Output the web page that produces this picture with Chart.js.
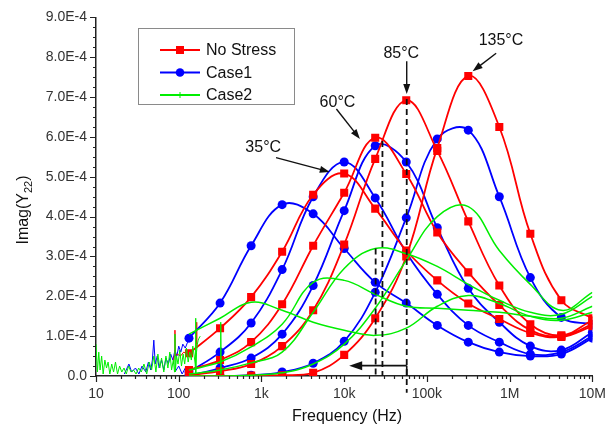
<!DOCTYPE html>
<html>
<head>
<meta charset="utf-8">
<script src="https://cdn.jsdelivr.net/npm/chart.js@4.4.0/dist/chart.umd.min.js"></script>
<style>
html, body { margin: 0; padding: 0; background: #fff; }
#wrap { width: 616px; height: 433px; }
</style>
</head>
<body>
<div id="wrap"><canvas id="imagChart" width="616" height="433"></canvas></div>
<script>
// Frequencies (Hz) where the symbols sit; all values below are in units of 1E-4
var freqs = [10, 23.7, 56.2, 133, 316, 750, 1778, 4217, 10000, 23714, 56234, 133352, 316228, 749894, 1778279, 4216965, 10000000];

// No Stress (red)
var red35  = [null, null, null, 0.57, 1.2, 1.98, 3.12, 4.55, 5.08, 4.2, 3.15, 2.4, 1.82, 1.43, 1.08, 0.98, 1.25];
var red60  = [null, null, null, 0.15, 0.4, 0.85, 1.8, 3.27, 4.6, 5.98, 5.07, 3.6, 2.6, 1.78, 1.15, 1.0, 1.3];
var red85  = [null, null, null, 0.02, 0.12, 0.3, 0.75, 1.65, 3.3, 5.45, 6.92, 5.65, 3.88, 2.27, 1.3, 1.02, 1.4];
var red135 = [null, null, null, 0, 0, 0.01, 0.02, 0.08, 0.53, 1.45, 3.0, 5.72, 7.53, 6.25, 3.57, 1.9, 1.45];

// Case1 (blue)
var blue35  = [null, null, null, 0.95, 1.83, 3.27, 4.3, 4.07, 3.2, 2.35, 1.83, 1.27, 0.85, 0.6, 0.5, 0.55, 0.95];
var blue60  = [null, null, null, 0.1, 0.6, 1.33, 2.67, 4.5, 5.37, 4.47, 3.1, 2.05, 1.27, 0.85, 0.55, 0.6, 1.0];
var blue85  = [null, null, null, 0, 0.2, 0.45, 1.05, 2.27, 4.15, 5.78, 5.37, 3.72, 2.2, 1.35, 0.75, 0.65, 1.1];
var blue135 = [null, null, null, 0, 0, 0.02, 0.1, 0.32, 0.87, 2.1, 3.97, 5.95, 6.17, 4.5, 2.47, 1.47, 1.3];

// Case2 (green)
var green35  = [null, null, null, 1.05, 1.45, 1.85, 1.65, 1.35, 1.15, 1.02, 1.2, 1.75, 2.02, 1.82, 1.5, 1.4, 1.6];
var green60  = [null, null, null, 0.15, 0.35, 0.73, 1.3, 2.35, 2.4, 2.05, 1.75, 1.7, 1.65, 1.6, 1.5, 1.45, 1.75];
var green85  = [null, null, null, 0.05, 0.15, 0.33, 0.6, 1.6, 2.7, 3.2, 3.07, 2.75, 2.3, 1.9, 1.6, 1.55, 2.0];
var green135 = [null, null, null, 0, 0, 0.02, 0.08, 0.3, 0.8, 1.7, 2.9, 4.0, 4.25, 3.15, 2.3, 1.65, 2.1];

// low frequency noise, [Hz, value]
var greenNoise = [[10,0.8],[10.4,0.1],[10.8,0.6],[11.2,0.15],[11.7,0.5],[12.2,0.05],[12.8,0.4],[13.4,0.2],[14,0.35],[14.7,0.05],
  [15.5,0.3],[16.3,0.1],[17.2,0.35],[18.2,0.05],[19.3,0.25],[20.5,0.1],[21.8,0.2],[23.2,0.05],[24.8,0.25],[26.5,0.1],
  [28.4,0.15],[30.5,0.05],[32.8,0.2],[35.3,0.1],[38,0.3],[41,0.05],[44,0.35],[47,0.15],[50,0.5],[53,0.1],
  [56,0.55],[59,0.2],[62,0.45],[66,0.1],[70,0.5],[74,0.2],[78,0.6],[82,0.15],[86,0.4],[89,0.1],[90,1.05],[91,0.1],
  [94,0.5],[98,0.3],[103,0.65],[108,0.25],[113,0.55],[118,0.3],[124,0.7],[130,0.35],[136,0.6],[142,0.4],[148,0.75],
  [154,0.5],[158,0.3],[160,1.45],[161,0.05],[164,0.6],[168,0.8],[172,0.9],[176,0.95],[182,1.0],
  [300,null],[318,0.05],[322,1.35],[326,0.05]];
var blueNoise = [[22,0.05],[25,0.3],[27,0.1],[30,0.2],[33,0.05],[36,0.25],[40,0.1],[43,0.35],[46,0.15],[48,0.4],
  [50,0.9],[52,0.3],[55,0.5],[58,0.2],[62,0.4],[66,0.15],[70,0.45],[75,0.3],[80,0.55],[85,0.4],[90,0.65],[95,0.5],
  [100,0.75],[106,0.6],[112,0.8],[120,0.7],[128,0.85],[133,0.95],
  [134,null],[90,0.1],[100,0.25],[110,0.05],[120,0.2],[133,0.1]];
var redNoise = [[86,0.3],[88,0.5],[90,1.15],[91,0.5],[96,0.55],[105,0.5],[115,0.6],[125,0.55],[133,0.57],
  [150,null],[162,0.75],[164,1.35],[166,0.8]];

var xTicks = [10, 100, 1000, 10000, 100000, 1000000, 10000000];
var xTickLabels = ['10', '100', '1k', '10k', '100k', '1M', '10M'];
var yTickVals = [0, 1, 2, 3, 4, 5, 6, 7, 8, 9];
var yTickLabels = ['0.0', '1.0E-4', '2.0E-4', '3.0E-4', '4.0E-4', '5.0E-4', '6.0E-4', '7.0E-4', '8.0E-4', '9.0E-4'];

// markers drawn on top: [x Hz, top value, bottom value]
var dashLines = [[24000, 3.2, 0], [29000, 5.9, 0], [57000, 6.95, -0.42]];
var tempLabels = [
  { text: '35°C',  tx: 1050,   ty: 5.72, x1: 1500,   y1: 5.48, x2: 6700,  y2: 5.12 },
  { text: '60°C',  tx: 8300,   ty: 6.85, x1: 8050,   y1: 6.7,  x2: 15500, y2: 5.95 },
  { text: '85°C',  tx: 49000,  ty: 8.1,  x1: 57000,  y1: 7.9,  x2: 57000, y2: 7.08 },
  { text: '135°C', tx: 785000, ty: 8.43, x1: 687000, y1: 8.1,  x2: 357000, y2: 7.65 }
];
var shiftArrow = { from: 57000, to: 11500, y: 0.26 };

var RED = '#ff0000', BLUE = '#0000ff', GREEN = '#00ee00';
var FONT = "'Liberation Sans', Arial, sans-serif";
Chart.defaults.font.family = FONT;

function curve(vals, color, style, radius, width) {
  var pts = [];
  freqs.forEach(function (f, i) {
    if (vals[i] !== null) pts.push({ x: f, y: vals[i] * 1e-4 });
  });
  return {
    data: pts, borderColor: color, backgroundColor: color, borderWidth: width,
    pointStyle: style, pointRadius: radius, pointBorderWidth: 0, tension: 0.4
  };
}

function noise(pairs, color) {
  return {
    data: pairs.map(function (p) { return { x: p[0], y: p[1] === null ? null : p[1] * 1e-4 }; }),
    borderColor: color, borderWidth: 1, pointRadius: 0, tension: 0, spanGaps: false
  };
}

function arrow(ctx, x1, y1, x2, y2, len, half) {
  var a = Math.atan2(y2 - y1, x2 - x1);
  ctx.beginPath();
  ctx.moveTo(x1, y1);
  ctx.lineTo(x2 - Math.cos(a) * len * 0.8, y2 - Math.sin(a) * len * 0.8);
  ctx.stroke();
  ctx.beginPath();
  ctx.moveTo(x2, y2);
  ctx.lineTo(x2 - Math.cos(a) * len + Math.sin(a) * half, y2 - Math.sin(a) * len - Math.cos(a) * half);
  ctx.lineTo(x2 - Math.cos(a) * len - Math.sin(a) * half, y2 - Math.sin(a) * len + Math.cos(a) * half);
  ctx.closePath();
  ctx.fill();
}

var extras = {
  id: 'extras',
  afterDatasetsDraw: function (chart) {
    var ctx = chart.ctx, xs = chart.scales.x, ys = chart.scales.y;
    var area = chart.chartArea;
    ctx.save();
    ctx.strokeStyle = '#111';
    ctx.fillStyle = '#111';

    // dashed markers
    ctx.lineWidth = 1.8;
    ctx.setLineDash([6, 4]);
    dashLines.forEach(function (d) {
      var px = xs.getPixelForValue(d[0]);
      ctx.beginPath();
      ctx.moveTo(px, ys.getPixelForValue(d[1] * 1e-4));
      ctx.lineTo(px, ys.getPixelForValue(d[2] * 1e-4));
      ctx.stroke();
    });
    ctx.setLineDash([]);

    // shift arrow at the bottom
    var ax1 = xs.getPixelForValue(shiftArrow.from), ax2 = xs.getPixelForValue(shiftArrow.to);
    var ay = ys.getPixelForValue(shiftArrow.y * 1e-4);
    ctx.lineWidth = 1.6;
    ctx.beginPath();
    ctx.moveTo(ax1, area.bottom);
    ctx.lineTo(ax1, ay);
    ctx.stroke();
    arrow(ctx, ax1, ay, ax2, ay, 13, 4.5);

    // temperature labels
    ctx.lineWidth = 1.4;
    ctx.font = '16px ' + FONT;
    ctx.textAlign = 'center';
    ctx.textBaseline = 'middle';
    tempLabels.forEach(function (t) {
      ctx.fillText(t.text, xs.getPixelForValue(t.tx), ys.getPixelForValue(t.ty * 1e-4));
      arrow(ctx, xs.getPixelForValue(t.x1), ys.getPixelForValue(t.y1 * 1e-4),
        xs.getPixelForValue(t.x2), ys.getPixelForValue(t.y2 * 1e-4), 10, 3.5);
    });
    ctx.restore();
  },
  afterDraw: function (chart) {
    var ctx = chart.ctx, xs = chart.scales.x, ys = chart.scales.y;
    var area = chart.chartArea;
    ctx.save();
    ctx.strokeStyle = '#222';
    ctx.lineWidth = 1.2;

    // x ticks, majors and minors
    ctx.beginPath();
    for (var d = 1; d <= 7; d++) {
      for (var m = 1; m <= 9; m++) {
        var v = m * Math.pow(10, d);
        if (v > 1e7) break;
        var px = Math.round(xs.getPixelForValue(v)) + 0.5;
        ctx.moveTo(px, area.bottom);
        ctx.lineTo(px, area.bottom + (m === 1 ? 6 : 3));
      }
    }
    // y ticks
    for (var k = 0; k <= 36; k++) {
      var py = Math.round(ys.getPixelForValue(k * 0.25e-4)) + 0.5;
      ctx.moveTo(area.left, py);
      ctx.lineTo(area.left - (k % 4 === 0 ? 6 : 3), py);
    }
    ctx.stroke();

    // axis titles
    ctx.fillStyle = '#111';
    ctx.textBaseline = 'middle';
    ctx.textAlign = 'center';
    ctx.font = '16px ' + FONT;
    ctx.fillText('Frequency (Hz)', 347, 417);

    ctx.save();
    ctx.translate(24, 210);
    ctx.rotate(-Math.PI / 2);
    ctx.textAlign = 'left';
    var big = '16px ' + FONT, small = '11px ' + FONT;
    ctx.font = big;
    var w1 = ctx.measureText('Imag(Y').width, w3 = ctx.measureText(')').width;
    ctx.font = small;
    var w2 = ctx.measureText('22').width;
    var sx = -(w1 + w2 + w3) / 2;
    ctx.font = big;
    ctx.fillText('Imag(Y', sx, 0);
    ctx.font = small;
    ctx.fillText('22', sx + w1, 5);
    ctx.font = big;
    ctx.fillText(')', sx + w1 + w2, 0);
    ctx.restore();

    // legend box
    ctx.fillStyle = '#fff';
    ctx.fillRect(138, 28, 156, 76);
    ctx.strokeStyle = '#8a8a8a';
    ctx.lineWidth = 1;
    ctx.strokeRect(138.5, 28.5, 156, 76);
    var items = [['No Stress', RED, 'rect'], ['Case1', BLUE, 'circle'], ['Case2', GREEN, 'cross']];
    items.forEach(function (it, i) {
      var y = 50 + i * 22.5;
      ctx.strokeStyle = it[1];
      ctx.fillStyle = it[1];
      ctx.lineWidth = 1.8;
      ctx.beginPath();
      ctx.moveTo(160, y);
      ctx.lineTo(200, y);
      ctx.stroke();
      if (it[2] === 'rect') {
        ctx.fillRect(176, y - 4, 8, 8);
      } else if (it[2] === 'circle') {
        ctx.beginPath();
        ctx.arc(180, y, 4.3, 0, Math.PI * 2);
        ctx.fill();
      } else {
        ctx.lineWidth = 1;
        ctx.beginPath();
        ctx.moveTo(180, y - 3);
        ctx.lineTo(180, y + 3);
        ctx.stroke();
      }
      ctx.fillStyle = '#111';
      ctx.textAlign = 'left';
      ctx.font = '16px ' + FONT;
      ctx.fillText(it[0], 206, y + 1);
    });
    ctx.restore();
  }
};

var imagCtx = document.getElementById('imagChart').getContext('2d');
var imagChart = new Chart(imagCtx, {
  type: 'line',
  data: {
    datasets: [
      noise(greenNoise, GREEN),
      curve(green35, GREEN, 'circle', 0, 1.5),
      curve(green60, GREEN, 'circle', 0, 1.5),
      curve(green85, GREEN, 'circle', 0, 1.5),
      curve(green135, GREEN, 'circle', 0, 1.5),
      curve(red35, RED, 'rect', 5.7, 1.8),
      curve(red60, RED, 'rect', 5.7, 1.8),
      curve(red85, RED, 'rect', 5.7, 1.8),
      curve(red135, RED, 'rect', 5.7, 1.8),
      curve(blue35, BLUE, 'circle', 4.5, 1.8),
      curve(blue60, BLUE, 'circle', 4.5, 1.8),
      curve(blue85, BLUE, 'circle', 4.5, 1.8),
      curve(blue135, BLUE, 'circle', 4.5, 1.8),
      noise(redNoise, RED),
      noise(blueNoise, BLUE)
    ]
  },
  options: {
    responsive: false,
    animation: false,
    events: [],
    layout: { padding: { top: 16, right: 13, left: 0, bottom: 0 } },
    plugins: { legend: { display: false }, tooltip: { enabled: false } },
    scales: {
      x: {
        type: 'logarithmic', min: 10, max: 10000000,
        grid: { display: false, drawTicks: false },
        border: { display: true, color: '#222', width: 1.5 },
        ticks: {
          padding: 10, color: '#333', font: { size: 14 }, autoSkip: false, maxRotation: 0,
          callback: function (v, i) { return xTickLabels[i]; }
        },
        afterBuildTicks: function (s) { s.ticks = xTicks.map(function (v) { return { value: v }; }); },
        afterFit: function (s) { s.height = 57; }
      },
      y: {
        type: 'linear', min: 0, max: 9e-4,
        grid: { display: false, drawTicks: false },
        border: { display: true, color: '#222', width: 1.5 },
        ticks: {
          padding: 9, color: '#333', font: { size: 14 },
          callback: function (v, i) { return yTickLabels[i]; }
        },
        afterBuildTicks: function (s) { s.ticks = yTickVals.map(function (v) { return { value: v * 1e-4 }; }); },
        afterFit: function (s) { s.width = 96; }
      }
    }
  },
  plugins: [extras]
});
</script>
</body>
</html>
